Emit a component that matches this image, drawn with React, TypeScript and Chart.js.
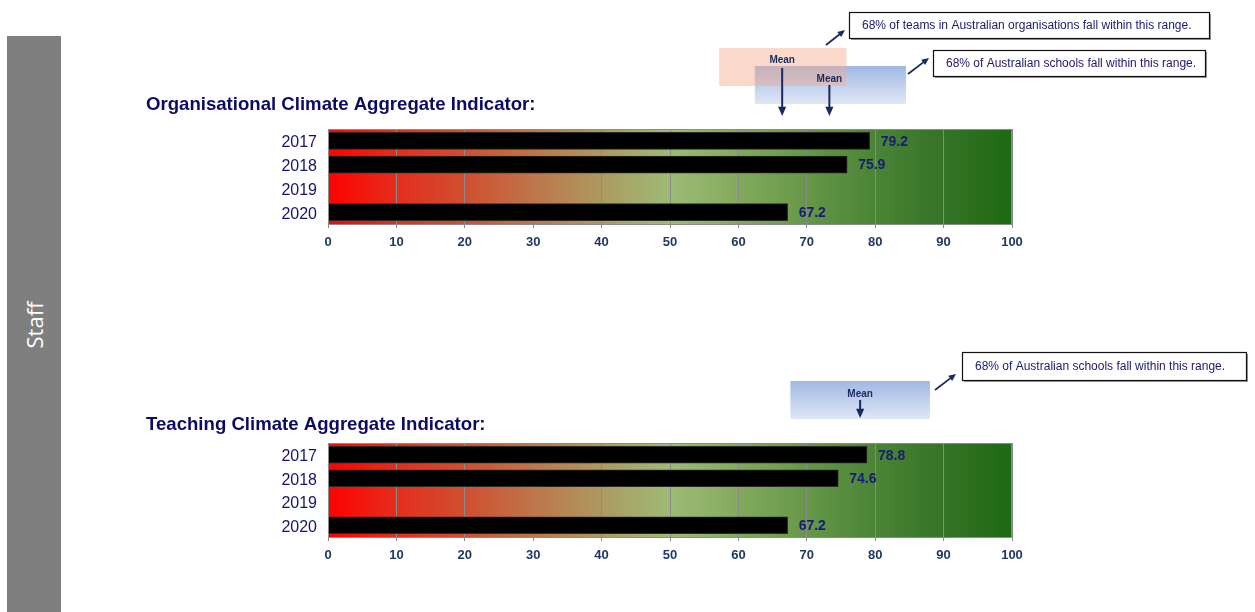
import React, { useEffect, useRef } from "react";
import { Chart, registerables } from "chart.js";

Chart.register(...registerables);

const categories = ["2017", "2018", "2019", "2020"];
const orgValues = [79.2, 75.9, null, 67.2];
const teachValues = [78.8, 74.6, null, 67.2];
const axisMin = 0;
const axisMax = 100;
const axisStep = 10;

const orgTitle = "Organisational Climate Aggregate Indicator:";
const teachTitle = "Teaching Climate Aggregate Indicator:";

// reference ranges (value space)
const orgTeamRange = [57.2, 75.8];
const orgTeamMean = 66.4;
const orgSchoolRange = [62.4, 84.5];
const orgSchoolMean = 73.3;
const teachSchoolRange = [67.6, 88.0];
const teachSchoolMean = 77.8;

const teamNote = "68% of teams in Australian organisations fall within this range.";
const schoolNote = "68% of Australian schools fall within this range.";
const meanLabel = "Mean";

const FONT = '"Liberation Sans", Arial, Helvetica, sans-serif';
const NAVY = "#14146a";
const AXIS_NAVY = "#1f3864";

type Annot = {
  kind: "pink" | "blue";
  range: number[];
  mean: number;
  boxTop: number;
  boxBottom: number;
  meanTextY: number;
  arrowFrom: number;
  arrowTo: number;
};

type Callout = {
  text: string;
  x1: number;
  y1: number;
  x2: number;
  y2: number;
  ax1: number;
  ay1: number;
  ax2: number;
  ay2: number;
};

function drawArrow(ctx: CanvasRenderingContext2D, x1: number, y1: number, x2: number, y2: number, head: number) {
  const ang = Math.atan2(y2 - y1, x2 - x1);
  ctx.beginPath();
  ctx.moveTo(x1, y1);
  ctx.lineTo(x2 - Math.cos(ang) * head * 0.8, y2 - Math.sin(ang) * head * 0.8);
  ctx.stroke();
  ctx.beginPath();
  ctx.moveTo(x2, y2);
  ctx.lineTo(x2 - head * Math.cos(ang - 0.42), y2 - head * Math.sin(ang - 0.42));
  ctx.lineTo(x2 - head * Math.cos(ang + 0.42), y2 - head * Math.sin(ang + 0.42));
  ctx.closePath();
  ctx.fill();
}

function makeChart(
  canvas: HTMLCanvasElement,
  values: (number | null)[],
  title: string,
  titleY: number,
  plotTop: number,
  plotBottom: number,
  annots: Annot[],
  callouts: Callout[]
) {
  const H = canvas.height;
  const plotLeft = 328;
  const plotRight = 1012;
  const xAxisH = 32;

  const bgPlugin = {
    id: "bg",
    beforeDraw(chart: any) {
      const { ctx, chartArea } = chart;
      const { left, right, top, bottom } = chartArea;
      const g = ctx.createLinearGradient(left, 0, right, 0);
      g.addColorStop(0, "#ff0000");
      g.addColorStop(0.1, "#e42e1c");
      g.addColorStop(0.2, "#d04f30");
      g.addColorStop(0.3, "#be7549");
      g.addColorStop(0.4, "#ad9a60");
      g.addColorStop(0.5, "#9dbb76");
      g.addColorStop(0.6, "#83aa5c");
      g.addColorStop(0.7, "#659748");
      g.addColorStop(0.8, "#4b8436");
      g.addColorStop(0.9, "#357326");
      g.addColorStop(1, "#1d6a14");
      ctx.save();
      ctx.fillStyle = g;
      ctx.fillRect(left, top, right - left, bottom - top);
      ctx.restore();
    },
    afterDraw(chart: any) {
      const { ctx, chartArea } = chart;
      ctx.save();
      ctx.strokeStyle = "#8c8c8c";
      ctx.lineWidth = 1;
      ctx.strokeRect(chartArea.left + 0.5, chartArea.top + 0.5, chartArea.right - chartArea.left - 1, chartArea.bottom - chartArea.top);
      // title
      ctx.fillStyle = "#0b0b66";
      ctx.font = `bold 18.6px ${FONT}`;
      ctx.textAlign = "left";
      ctx.textBaseline = "middle";
      ctx.fillText(title, 146, titleY);

      // annotations: blue boxes first (opaque), pink translucent on top
      const xs = chart.scales.x;
      const ordered = [...annots].sort((a, b) => (a.kind === "blue" ? -1 : 1) - (b.kind === "blue" ? -1 : 1));
      for (const a of ordered) {
        const x1 = xs.getPixelForValue(a.range[0]);
        const x2 = xs.getPixelForValue(a.range[1]);
        if (a.kind === "pink") {
          ctx.fillStyle = "rgba(245, 170, 140, 0.45)";
          ctx.fillRect(x1, a.boxTop, x2 - x1, a.boxBottom - a.boxTop);
        } else {
          const g = ctx.createLinearGradient(0, a.boxTop, 0, a.boxBottom);
          g.addColorStop(0, "#a0b8e4");
          g.addColorStop(1, "#e0e7f6");
          ctx.fillStyle = g;
          ctx.fillRect(x1, a.boxTop, x2 - x1, a.boxBottom - a.boxTop);
        }
      }
      for (const a of annots) {
        const mx = xs.getPixelForValue(a.mean);
        ctx.fillStyle = "#1b2a5e";
        ctx.font = `bold 10px ${FONT}`;
        ctx.textAlign = "center";
        ctx.textBaseline = "middle";
        ctx.fillText(meanLabel, mx, a.meanTextY);
        ctx.strokeStyle = "#1b2a5e";
        ctx.lineWidth = 2;
        drawArrow(ctx, mx, a.arrowFrom, mx, a.arrowTo, 10);
      }
      for (const c of callouts) {
        ctx.fillStyle = "#9a9a9a";
        ctx.fillRect(c.x1 + 2, c.y1 + 2, c.x2 - c.x1, c.y2 - c.y1);
        ctx.fillStyle = "#ffffff";
        ctx.fillRect(c.x1, c.y1, c.x2 - c.x1, c.y2 - c.y1);
        ctx.strokeStyle = "#111";
        ctx.lineWidth = 1.2;
        ctx.strokeRect(c.x1 + 0.5, c.y1 + 0.5, c.x2 - c.x1, c.y2 - c.y1);
        ctx.fillStyle = "#1a1a70";
        ctx.font = `12px ${FONT}`;
        ctx.textAlign = "left";
        ctx.textBaseline = "middle";
        ctx.fillText(c.text, c.x1 + 13, (c.y1 + c.y2) / 2 + 1);
        ctx.strokeStyle = "#1b2a5e";
        ctx.fillStyle = "#1b2a5e";
        ctx.lineWidth = 1.8;
        drawArrow(ctx, c.ax1, c.ay1, c.ax2, c.ay2, 8);
      }
      ctx.restore();
    },
    afterDatasetsDraw(chart: any) {
      const { ctx } = chart;
      const meta = chart.getDatasetMeta(0);
      ctx.save();
      ctx.fillStyle = "#1a1a78";
      ctx.font = `bold 14px ${FONT}`;
      ctx.textAlign = "left";
      ctx.textBaseline = "middle";
      meta.data.forEach((bar: any, i: number) => {
        const v = values[i];
        if (v === null || v === undefined) return;
        ctx.fillText(v.toFixed(1), bar.x + 11, bar.y + 1);
      });
      ctx.restore();
    },
  };

  return new Chart(canvas, {
    type: "bar",
    data: {
      labels: categories,
      datasets: [
        {
          data: values as any,
          backgroundColor: "#000000",
          borderColor: "#2a2a2a",
          borderWidth: 1,
          barThickness: 17,
        },
      ],
    },
    options: {
      indexAxis: "y",
      responsive: false,
      animation: false,
      layout: {
        padding: {
          left: 0,
          right: canvas.width - plotRight,
          top: plotTop,
          bottom: H - plotBottom - xAxisH,
        },
      },
      plugins: {
        legend: { display: false },
        tooltip: { enabled: false },
        title: { display: false },
      },
      scales: {
        x: {
          min: axisMin,
          max: axisMax,
          ticks: {
            stepSize: axisStep,
            color: AXIS_NAVY,
            font: { family: FONT, size: 13, weight: "bold" },
            padding: 7,
          },
          grid: {
            color: "#8a8a8a",
            lineWidth: 1,
            tickLength: 4,
            drawTicks: true,
          },
          border: { color: "#8c8c8c" },
          afterFit(scale: any) {
            scale.height = xAxisH;
          },
        },
        y: {
          ticks: {
            color: NAVY,
            font: { family: FONT, size: 16 },
            padding: 11,
            labelOffset: 2,
          },
          grid: { display: false, drawTicks: false },
          border: { color: "#8c8c8c" },
          afterFit(scale: any) {
            scale.width = plotLeft;
          },
        },
      },
    },
    plugins: [bgPlugin],
  } as any);
}

export default function App() {
  const ref1 = useRef<HTMLCanvasElement>(null);
  const ref2 = useRef<HTMLCanvasElement>(null);

  useEffect(() => {
    const c1 = makeChart(
      ref1.current!,
      orgValues,
      orgTitle,
      105,
      129,
      224,
      [
        { kind: "pink", range: orgTeamRange, mean: orgTeamMean, boxTop: 48, boxBottom: 86, meanTextY: 60, arrowFrom: 68, arrowTo: 116 },
        { kind: "blue", range: orgSchoolRange, mean: orgSchoolMean, boxTop: 66, boxBottom: 104, meanTextY: 79, arrowFrom: 85, arrowTo: 116 },
      ],
      [
        { text: teamNote, x1: 849, y1: 12, x2: 1209, y2: 38, ax1: 826, ay1: 45, ax2: 845, ay2: 30 },
        { text: schoolNote, x1: 933, y1: 50, x2: 1205, y2: 76, ax1: 908, ay1: 74, ax2: 929, ay2: 58 },
      ]
    );
    const c2 = makeChart(
      ref2.current!,
      teachValues,
      teachTitle,
      119,
      137,
      231,
      [
        { kind: "blue", range: teachSchoolRange, mean: teachSchoolMean, boxTop: 75, boxBottom: 113, meanTextY: 88, arrowFrom: 94, arrowTo: 112 },
      ],
      [
        { text: schoolNote, x1: 962, y1: 46, x2: 1246, y2: 74, ax1: 935, ay1: 84, ax2: 956, ay2: 68 },
      ]
    );
    return () => {
      c1.destroy();
      c2.destroy();
    };
  }, []);

  return (
    <div style={{ position: "fixed", left: 0, top: 0, width: 1255, height: 612, background: "#fff", overflow: "hidden" }}>
      <div style={{ position: "absolute", left: 7, top: 36, width: 54, height: 576, background: "#7f7f7f" }} />
      <div
        style={{
          position: "absolute",
          left: 34,
          top: 325,
          transform: "translate(-50%, -50%) rotate(-90deg)",
          color: "#ffffff",
          fontFamily: '"Open Sans", "Noto Sans", sans-serif',
          fontSize: 22,
          whiteSpace: "nowrap",
        }}
      >
        Staff
      </div>
      <canvas ref={ref1} width={1255} height={306} style={{ position: "absolute", left: 0, top: 0 }} />
      <canvas ref={ref2} width={1255} height={306} style={{ position: "absolute", left: 0, top: 306 }} />
    </div>
  );
}
